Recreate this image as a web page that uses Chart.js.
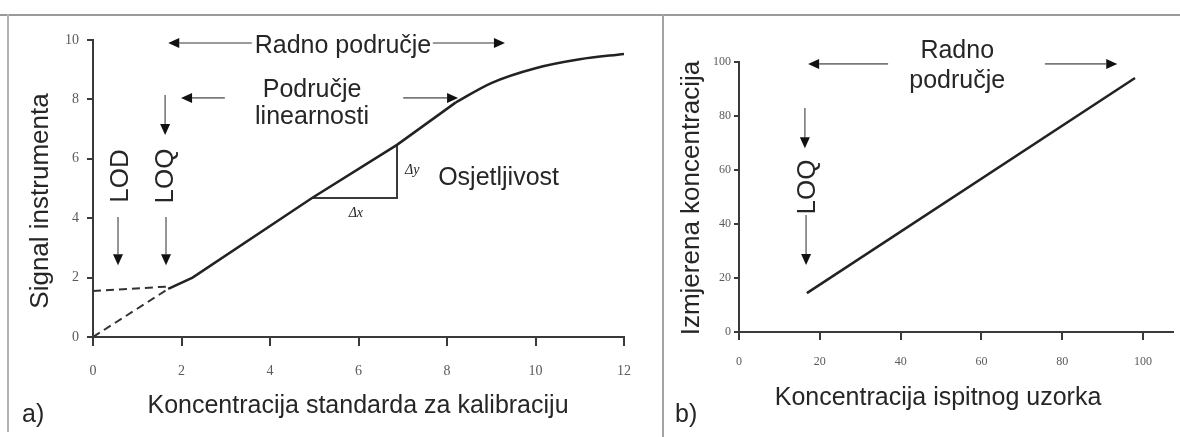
<!DOCTYPE html>
<html>
<head>
<meta charset="utf-8">
<script src="https://cdn.jsdelivr.net/npm/chart.js@4.4.1/dist/chart.umd.min.js"></script>
<style>
  html, body { margin: 0; padding: 0; background: #fff; }
  body { width: 1180px; height: 437px; position: relative; overflow: hidden; }
  .panel { position: absolute; top: 0; }
  .frame { position: absolute; background: #9a9a9a; }
</style>
</head>
<body>
<div class="frame" style="left:0;top:14px;width:1180px;height:2px"></div>
<div class="frame" style="left:7px;top:14px;width:2px;height:418px;background:#b4b4b4"></div>
<div class="frame" style="left:662px;top:14px;width:2px;height:423px;background:#a4a4a4"></div>
<div class="panel" style="left:0"><canvas id="chartA" width="664" height="437"></canvas></div>
<div class="panel" style="left:664px"><canvas id="chartB" width="516" height="437"></canvas></div>
<script>
// a) calibration curve: straight (linear) range, then the bend towards saturation
const linearX = [1.7, 2.25, 4.95, 6.87, 8.2];
const linearY = [1.62, 2.0, 4.68, 6.47, 7.9];
const bendX = [8.2, 9.0, 10.0, 11.0, 12.0];
const bendY = [7.9, 8.55, 9.05, 9.35, 9.53];
const blankX = [0, 1.7];
const blankY = [1.55, 1.7];
const originX = [0, 1.7];
const originY = [0, 1.62];
const slopeX = [4.95, 6.87, 6.87];
const slopeY = [4.68, 4.68, 6.47];
const ticksAX = [0, 2, 4, 6, 8, 10, 12];
const ticksAY = [0, 2, 4, 6, 8, 10];

// b) measured vs sample concentration
const sampleX = [16.8, 98];
const measuredY = [14.4, 94.1];
const ticksBX = [0, 20, 40, 60, 80, 100];
const ticksBY = [0, 20, 40, 60, 80, 100];

const sans = '"Liberation Sans", Arial, sans-serif';
const serif = '"Liberation Serif", "Times New Roman", serif';
const ink = '#262626';

function pts(xs, ys) {
    return xs.map((x, i) => ({x: x, y: ys[i]}));
}

function arrow(ctx, x1, y1, x2, y2) {
    const a = Math.atan2(y2 - y1, x2 - x1), len = 11, w = 5;
    const bx = x2 - len * Math.cos(a), by = y2 - len * Math.sin(a);
    ctx.strokeStyle = '#7a7a7a';
    ctx.lineWidth = 1.6;
    ctx.beginPath();
    ctx.moveTo(x1, y1);
    ctx.lineTo(bx, by);
    ctx.stroke();
    ctx.fillStyle = '#111';
    ctx.beginPath();
    ctx.moveTo(x2, y2);
    ctx.lineTo(bx - w * Math.sin(a), by + w * Math.cos(a));
    ctx.lineTo(bx + w * Math.sin(a), by - w * Math.cos(a));
    ctx.closePath();
    ctx.fill();
}

// labels and arrows, placed through the chart's own scales
const notes = {
    id: 'notes',
    afterDraw(chart, args, opts) {
        const {ctx, scales: {x, y}} = chart;
        const px = v => x.getPixelForValue(v), py = v => y.getPixelForValue(v);
        ctx.save();
        (opts.arrows || []).forEach(a => arrow(ctx, px(a[0]), py(a[1]), px(a[2]), py(a[3])));
        (opts.texts || []).forEach(t => {
            const tx = t.px ? t.x : px(t.x), ty = t.px ? t.y : py(t.y);
            ctx.fillStyle = ink;
            ctx.font = (t.style || '') + ' ' + (t.size || 25) + 'px ' + (t.font || sans);
            ctx.save();
            ctx.translate(tx, ty);
            if (t.rot) {
                ctx.rotate(-Math.PI / 2);
                ctx.textAlign = 'center';
                ctx.textBaseline = 'middle';
            } else {
                ctx.textAlign = t.align || 'center';
                ctx.textBaseline = 'alphabetic';
            }
            ctx.fillText(t.t, 0, 0);
            ctx.restore();
        });
        ctx.restore();
    }
};

function axis(min, max, ticks, o) {
    return {
        type: 'linear', min: min, max: max,
        border: {display: true, color: '#3a3a3a', width: 2},
        grid: {drawOnChartArea: false, drawTicks: true, tickLength: o.tickLength, color: '#3a3a3a', lineWidth: 2},
        ticks: {font: {family: serif, size: o.size}, color: '#5a5a5a', padding: o.padding, autoSkip: false, maxRotation: 0},
        afterBuildTicks: s => { s.ticks = ticks.map(v => ({value: v})); },
        afterFit: s => {
            if (o.width) s.width = o.width;
            if (o.height) s.height = o.height;
        }
    };
}

function line(data, extra) {
    return Object.assign({data: data, showLine: true, pointRadius: 0, fill: false,
        borderColor: '#222', borderWidth: 2.5}, extra || {});
}

const base = {
    responsive: false,
    animation: false,
    events: [],
};

new Chart(document.getElementById('chartA'), {
    type: 'scatter',
    data: {
        datasets: [
            line(pts(linearX, linearY)),
            line(pts(bendX, bendY), {cubicInterpolationMode: 'monotone'}),
            line(pts(blankX, blankY), {borderDash: [8, 5], borderWidth: 2, borderColor: '#333'}),
            line(pts(originX, originY), {borderDash: [8, 5], borderWidth: 2, borderColor: '#333'}),
            line(pts(slopeX, slopeY), {borderWidth: 2, borderColor: '#3a3a3a'})
        ]
    },
    options: Object.assign({}, base, {
        layout: {padding: {top: 40, right: 40, left: 0, bottom: 0}},
        scales: {
            x: axis(0, 12, ticksAX, {tickLength: 9, size: 14, padding: 17, height: 100}),
            y: axis(0, 10, ticksAY, {tickLength: 6, size: 14, padding: 8, width: 93})
        },
        plugins: {
            legend: {display: false},
            tooltip: {enabled: false},
            notes: {
                arrows: [
                    [3.59, 9.9, 1.7, 9.9], [7.68, 9.9, 9.31, 9.9],
                    [2.98, 8.05, 1.99, 8.05], [7.01, 8.05, 8.25, 8.05],
                    [1.63, 8.15, 1.63, 6.8],
                    [0.565, 4.04, 0.565, 2.42], [1.65, 4.04, 1.65, 2.42]
                ],
                texts: [
                    {t: 'Radno područje', x: 5.65, y: 9.56},
                    {t: 'Područje', x: 4.95, y: 8.08},
                    {t: 'linearnosti', x: 4.95, y: 7.17},
                    {t: 'Osjetljivost', x: 7.8, y: 5.12, align: 'left'},
                    {t: 'Δy', x: 7.05, y: 5.49, size: 14, font: serif, style: 'italic', align: 'left'},
                    {t: 'Δx', x: 5.94, y: 4.04, size: 14, font: serif, style: 'italic'},
                    {t: 'LOD', x: 0.63, y: 5.42, size: 26, rot: true},
                    {t: 'LOQ', x: 1.65, y: 5.42, size: 26, rot: true},
                    {t: 'Signal instrumenta', px: true, x: 41, y: 201, size: 26, rot: true},
                    {t: 'Koncentracija standarda za kalibraciju', px: true, x: 358, y: 413},
                    {t: 'a)', px: true, x: 22, y: 422, align: 'left'}
                ]
            }
        }
    }),
    plugins: [notes]
});

new Chart(document.getElementById('chartB'), {
    type: 'scatter',
    data: {
        datasets: [line(pts(sampleX, measuredY))]
    },
    options: Object.assign({}, base, {
        layout: {padding: {top: 62, right: 7, left: 0, bottom: 0}},
        scales: {
            x: axis(0, 107.4, ticksBX, {tickLength: 8, size: 12, padding: 15, height: 105}),
            y: axis(0, 100, ticksBY, {tickLength: 5, size: 12, padding: 3, width: 75})
        },
        plugins: {
            legend: {display: false},
            tooltip: {enabled: false},
            notes: {
                arrows: [
                    [36.9, 99.3, 17.1, 99.3], [75.7, 99.3, 93.6, 99.3],
                    [16.3, 83, 16.3, 68.1], [16.6, 43.3, 16.6, 24.8]
                ],
                texts: [
                    {t: 'Radno', x: 54, y: 101.5},
                    {t: 'područje', x: 54, y: 90.4},
                    {t: 'LOQ', x: 17.1, y: 53.7, size: 26, rot: true},
                    {t: 'Izmjerena koncentracija', px: true, x: 28, y: 198, size: 26, rot: true},
                    {t: 'Koncentracija ispitnog uzorka', px: true, x: 274, y: 405},
                    {t: 'b)', px: true, x: 11, y: 422, align: 'left'}
                ]
            }
        }
    }),
    plugins: [notes]
});
</script>
</body>
</html>
